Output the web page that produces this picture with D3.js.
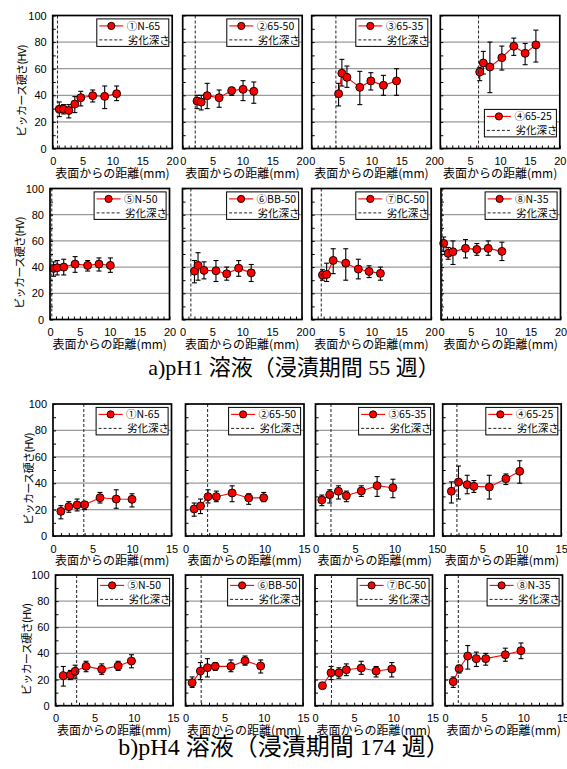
<!DOCTYPE html>
<html>
<head>
<meta charset="utf-8">
<script src="https://cdn.jsdelivr.net/npm/d3@7/dist/d3.min.js"></script>
<style>
  body { margin: 0; background: #fff; }
  svg { display: block; }
</style>
</head>
<body>
<svg id="chart" width="567" height="769"></svg>
<script>
// ---- data -------------------------------------------------------------
const seriesNames = ["①N-65", "②65-50", "③65-35", "④65-25", "⑤N-50", "⑥BB-50", "⑦BC-50", "⑧N-35"];
const depthLabel = "劣化深さ";
const yTicks = [0, 20, 40, 60, 80, 100];
const ph1XTicks = [0, 5, 10, 15, 20];
const ph4XTicks = [0, 5, 10, 15];

// pH1 solution, 55 weeks of immersion
const ph1Depth = [0.8, 2.1, 4.05, 6.4, 0.3, 1.4, 1.6, 0.2];
const ph1Distance = [
  [1.1, 1.8, 2.7, 3.7, 4.7, 6.7, 8.7, 10.7],
  [2.4, 3.1, 4.1, 6.1, 8.2, 10.1, 11.9],
  [4.5, 5.05, 5.9, 8.05, 9.9, 12.0, 14.2],
  [6.6, 7.2, 8.3, 10.3, 12.3, 14.2, 16.0],
  [0.6, 1.2, 2.3, 4.2, 6.3, 8.2, 10.1],
  [2.0, 2.6, 3.6, 5.6, 7.4, 9.4, 11.5],
  [1.8, 2.5, 3.6, 5.7, 7.8, 9.6, 11.5],
  [0.45, 1.2, 2.0, 4.1, 6.0, 7.9, 10.2]
];
const ph1Hardness = [
  [29.6, 29.6, 28.6, 33.4, 38.2, 39.7, 39.2, 41.2],
  [35.7, 34.9, 39.7, 38.2, 43.5, 44.5, 43.0],
  [41.2, 56.6, 53.5, 46.0, 50.8, 47.5, 50.8],
  [57.5, 64.3, 61.3, 68.3, 76.9, 71.6, 77.9],
  [39.0, 39.5, 40.0, 42.3, 41.3, 42.3, 41.3],
  [36.9, 41.3, 37.5, 37.2, 34.9, 39.2, 35.6],
  [34.0, 34.4, 45.1, 43.0, 38.5, 36.7, 35.2],
  [58.1, 50.5, 51.7, 54.3, 53.5, 54.3, 52.0]
];
const ph1Low = [
  [24, 26, 23, 27, 32, 35, 30, 36],
  [30, 29, 30, 31, 40, 36, 34],
  [32, 47, 46, 33, 44, 40, 40],
  [51, 56, 42, 59, 70, 63, 65],
  [33, 34, 34, 36, 37, 37, 36],
  [28, 30, 31, 29, 30, 33, 29],
  [30, 29, 35, 30, 31, 32, 30],
  [52, 46, 42, 47, 49, 49, 45]
];
const ph1High = [
  [35, 33, 33, 39, 43, 44, 47, 47],
  [40, 40, 49, 44, 46, 51, 50],
  [49, 67, 62, 58, 57, 55, 60],
  [61, 73, 80, 77, 83, 79, 89],
  [44, 45, 46, 48, 45, 47, 47],
  [45, 51, 44, 45, 40, 45, 42],
  [38, 43, 54, 54, 46, 41, 40],
  [63, 55, 60, 61, 58, 60, 59]
];

// pH4 solution, 174 weeks of immersion
const ph4Depth = [3.9, 2.8, 1.96, 1.8, 2.7, 2.0, 2.1, 1.7];
const ph4Distance = [
  [1.0, 2.0, 3.05, 4.0, 5.95, 8.0, 10.0],
  [1.1, 1.9, 2.85, 3.9, 5.9, 8.0, 9.9],
  [0.8, 1.8, 2.9, 3.9, 5.8, 7.8, 9.8],
  [1.1, 2.0, 3.1, 3.95, 5.9, 8.0, 9.75],
  [1.0, 1.9, 2.5, 3.9, 5.9, 8.0, 9.7],
  [0.85, 1.9, 2.8, 3.8, 5.8, 7.6, 9.6],
  [0.95, 2.05, 3.05, 4.0, 5.9, 7.8, 9.8],
  [1.05, 1.8, 2.9, 4.0, 5.2, 7.7, 9.7]
];
const ph4Hardness = [
  [18.7, 22.2, 23.5, 23.7, 29.0, 28.0, 27.8],
  [20.5, 22.7, 29.8, 29.8, 32.6, 28.8, 29.0],
  [27.3, 31.3, 33.9, 30.5, 34.1, 38.1, 36.6],
  [33.9, 40.9, 38.9, 37.6, 37.1, 43.4, 49.0],
  [23.0, 23.5, 26.3, 30.1, 27.8, 30.4, 34.2],
  [17.6, 26.5, 29.1, 30.1, 30.1, 34.4, 30.4],
  [15.3, 25.2, 25.2, 27.5, 28.8, 26.5, 28.1],
  [18.4, 28.3, 38.0, 36.0, 36.0, 39.0, 42.1]
];
const ph4Low = [
  [13, 18, 19, 20, 25, 21, 22],
  [15, 17, 25, 26, 26, 24, 26],
  [23, 25, 28, 26, 30, 30, 29],
  [25, 28, 32, 33, 28, 39, 40],
  [15, 20, 21, 26, 24, 27, 29],
  [14, 20, 22, 27, 26, 31, 25],
  [14, 20, 21, 23, 24, 22, 22],
  [14, 25, 28, 30, 31, 34, 36]
];
const ph4High = [
  [23, 26, 28, 26, 33, 35, 32],
  [25, 28, 35, 34, 38, 32, 33],
  [31, 35, 38, 34, 38, 45, 43],
  [41, 53, 46, 42, 46, 47, 57],
  [30, 27, 31, 34, 32, 34, 39],
  [22, 33, 36, 33, 35, 38, 35],
  [17, 30, 29, 32, 34, 30, 33],
  [22, 31, 46, 41, 40, 44, 48]
];

const captions = ["a)pH1 溶液（浸漬期間 55 週）", "b)pH4 溶液（浸漬期間 174 週）"];

// ---- layout -----------------------------------------------------------
const rows = [
  { top: 15.5, height: 133, lefts: [52.7, 182.7, 311.7, 440.3], width: 119.5, titleX: 22, xMax: 20, xTicks: ph1XTicks, set: 0, first: 0 },
  { top: 188.5, height: 131, lefts: [50, 182.5, 311.7, 441], width: 119.5, titleX: 20, xMax: 20, xTicks: ph1XTicks, set: 0, first: 4 },
  { top: 404, height: 132, lefts: [53, 185.5, 315.5, 442.7], width: 118.5, titleX: 29, xMax: 15, xTicks: ph4XTicks, set: 1, first: 0 },
  { top: 575, height: 130.7, lefts: [55.5, 185.5, 315, 445], width: 117.5, titleX: 27, xMax: 15, xTicks: ph4XTicks, set: 1, first: 4 }
];
const sets = [
  { depth: ph1Depth, dist: ph1Distance, hv: ph1Hardness, lo: ph1Low, hi: ph1High },
  { depth: ph4Depth, dist: ph4Distance, hv: ph4Hardness, lo: ph4Low, hi: ph4High }
];

const SANS = "'Liberation Sans', Arial, 'Noto Sans CJK JP', sans-serif";
const JP = "'Noto Sans CJK JP', 'Liberation Sans', sans-serif";
const svg = d3.select("#chart");

rows.forEach((row, r) => {
  const set = sets[row.set];
  row.lefts.forEach((left, c) => {
    const k = row.first + c;
    const w = row.width, h = row.height;
    const x = d3.scaleLinear().domain([0, row.xMax]).range([0, w]);
    const y = d3.scaleLinear().domain([0, 100]).range([h, 0]);
    const g = svg.append("g").attr("transform", `translate(${left},${row.top})`);

    // horizontal grid
    g.append("g").selectAll("line").data(yTicks.filter(v => v > 0 && v < 100)).join("line")
      .attr("x1", 0).attr("x2", w).attr("y1", d => y(d)).attr("y2", d => y(d))
      .attr("stroke", "#9a9a9a").attr("stroke-width", 1.2);

    // axes: inward minor ticks, labels on majors
    const xAxis = d3.axisBottom(x).tickValues(d3.range(0, row.xMax + 1, 1))
      .tickSize(-3).tickPadding(9)
      .tickFormat(d => row.xTicks.includes(d) ? d : "");
    const gx = g.append("g").attr("transform", `translate(0,${h})`).call(xAxis);
    gx.select(".domain").remove();
    gx.selectAll("text").attr("font-family", SANS).attr("font-size", 11).attr("fill", "#000");
    gx.selectAll("line").attr("stroke", "#000");

    const yAxis = d3.axisLeft(y).tickValues(d3.range(0, 101, 10))
      .tickSize(-3).tickPadding(6)
      .tickFormat(d => (c === 0 && yTicks.includes(d)) ? d : "");
    const gy = g.append("g").call(yAxis);
    gy.select(".domain").remove();
    gy.selectAll("text").attr("font-family", SANS).attr("font-size", 11).attr("fill", "#000");
    gy.selectAll("line").attr("stroke", "#000");

    // series
    const pts = set.dist[k].map((d, i) => ({ x: d, y: set.hv[k][i], lo: set.lo[k][i], hi: set.hi[k][i] }));
    const eb = g.append("g").attr("stroke", "#000").attr("stroke-width", 1.1);
    pts.forEach(p => {
      eb.append("line").attr("x1", x(p.x)).attr("x2", x(p.x)).attr("y1", y(p.lo)).attr("y2", y(p.hi));
      eb.append("line").attr("x1", x(p.x) - 2.5).attr("x2", x(p.x) + 2.5).attr("y1", y(p.lo)).attr("y2", y(p.lo));
      eb.append("line").attr("x1", x(p.x) - 2.5).attr("x2", x(p.x) + 2.5).attr("y1", y(p.hi)).attr("y2", y(p.hi));
    });
    g.append("path").datum(pts)
      .attr("d", d3.line().x(p => x(p.x)).y(p => y(p.y)))
      .attr("fill", "none").attr("stroke", "#ff0000").attr("stroke-width", 1.1);
    g.append("g").selectAll("circle").data(pts).join("circle")
      .attr("cx", p => x(p.x)).attr("cy", p => y(p.y)).attr("r", 4)
      .attr("fill", "#ff0000").attr("stroke", "#000").attr("stroke-width", 0.9);

    // deterioration depth
    g.append("line").attr("x1", x(set.depth[k])).attr("x2", x(set.depth[k]))
      .attr("y1", 0).attr("y2", h)
      .attr("stroke", "#222").attr("stroke-width", 1).attr("stroke-dasharray", "3,2");

    // legend
    const lw = 72, lh = 27.5;
    const bottomLegend = (row.set === 0 && k === 3);
    const lx = w - 3.4 - lw;
    const ly = bottomLegend ? h - 11.6 - lh : 3.4;
    const lg = g.append("g").attr("transform", `translate(${lx},${ly})`);
    lg.append("rect").attr("width", lw).attr("height", lh)
      .attr("fill", "#fff").attr("stroke", "#000").attr("stroke-width", 1);
    lg.append("line").attr("x1", 2.5).attr("x2", 26.5).attr("y1", 7).attr("y2", 7)
      .attr("stroke", "#ff0000").attr("stroke-width", 1.1);
    lg.append("circle").attr("cx", 14.5).attr("cy", 7).attr("r", 3.6)
      .attr("fill", "#ff0000").attr("stroke", "#000").attr("stroke-width", 0.9);
    lg.append("text").attr("x", 30).attr("y", 7).attr("dy", "0.36em")
      .attr("font-family", JP).attr("font-size", 10.5).text(seriesNames[k]);
    lg.append("line").attr("x1", 2.5).attr("x2", 26.5).attr("y1", 21).attr("y2", 21)
      .attr("stroke", "#222").attr("stroke-width", 1).attr("stroke-dasharray", "3,2");
    lg.append("text").attr("x", 31).attr("y", 21).attr("dy", "0.36em")
      .attr("font-family", JP).attr("font-size", 10.5).text(depthLabel);

    // frame
    g.append("rect").attr("width", w).attr("height", h)
      .attr("fill", "none").attr("stroke", "#000").attr("stroke-width", 1.7);

    // x-axis title
    g.append("text").attr("x", w / 2).attr("y", h + 29).attr("text-anchor", "middle")
      .attr("font-family", JP).attr("font-size", 12).text("表面からの距離(mm)");

    // y-axis title
    if (c === 0) {
      svg.append("text")
        .attr("transform", `translate(${row.titleX},${row.top + h / 2 + 9}) rotate(-90)`)
        .attr("text-anchor", "middle").attr("dy", "0.36em")
        .attr("font-family", JP).attr("font-size", 11).attr("letter-spacing", -0.6)
        .text("ビッカース硬さ(HV)");
    }
  });
});

// captions
const SERIF = "'Liberation Serif', 'Noto Sans CJK JP', serif";
svg.append("text").attr("x", 294).attr("y", 375).attr("text-anchor", "middle")
  .attr("font-family", SERIF).attr("font-size", 22).text(captions[0]);
svg.append("text").attr("x", 284).attr("y", 755).attr("text-anchor", "middle")
  .attr("font-family", SERIF).attr("font-size", 24).text(captions[1]);
</script>
</body>
</html>
